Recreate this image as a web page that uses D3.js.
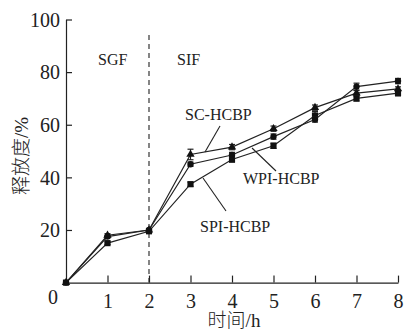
<!DOCTYPE html>
<html>
<head>
<meta charset="utf-8">
<script src="https://cdn.jsdelivr.net/npm/d3@7"></script>
<style>
  body { margin: 0; background: #fff; }
  svg text { font-family: "Liberation Serif", "Noto Sans CJK SC", serif; fill: #222; }
  svg text.cjk { font-weight: 300; }
</style>
</head>
<body>
<svg id="chart" width="405" height="331"></svg>
<script>
const hours = [0, 1, 2, 3, 4, 5, 6, 7, 8];
const scValues = [0, 18, 20, 48.7, 51.5, 58.5, 66.5, 72, 73.6];
const scErrors = [0, 0.6, 0.5, 2, 1, 1, 1, 1, 0.8];
const wpiValues = [0, 17.5, 20, 45, 48.5, 55.5, 62, 74.5, 76.6];
const wpiErrors = [0, 0.5, 0.5, 0.8, 1, 1, 1, 1.3, 1];
const spiValues = [0, 15, 19.5, 37.4, 46.8, 52, 63.5, 70, 72];
const spiErrors = [0, 0.5, 0.5, 0.8, 1, 1, 1.5, 1, 1];
const yTicks = [20, 40, 60, 80, 100];
const xTicks = [1, 2, 3, 4, 5, 6, 7, 8];

const svg = d3.select('#chart');
const x = d3.scaleLinear().domain([0, 8]).range([66, 398]);
const y = d3.scaleLinear().domain([0, 100]).range([282.6, 19.5]);

// axes
const xAxis = svg.append('g')
  .attr('transform', `translate(0,${y(0)})`)
  .call(d3.axisBottom(x).tickValues(xTicks).tickSizeInner(-7).tickSizeOuter(0).tickPadding(11));
const yAxis = svg.append('g')
  .attr('transform', `translate(${x(0)},0)`)
  .call(d3.axisLeft(y).tickValues(yTicks).tickSizeInner(-6).tickSizeOuter(0).tickPadding(6));
[xAxis, yAxis].forEach(g => {
  g.select('.domain').attr('stroke', '#222').attr('stroke-width', 1.2);
  g.selectAll('.tick line').attr('stroke', '#222').attr('stroke-width', 1.2);
  g.selectAll('.tick text').style('font-size', '20px').attr('fill', '#222');
});
yAxis.selectAll('.tick text').attr('dy', '0.34em');
xAxis.selectAll('.tick text').attr('dy', '0.7em');

svg.append('text').attr('x', 53).attr('y', 304).attr('text-anchor', 'middle')
  .style('font-size', '20px').text('0');

// SGF / SIF boundary
svg.append('line')
  .attr('x1', x(2)).attr('x2', x(2)).attr('y1', 35).attr('y2', y(0))
  .attr('stroke', '#222').attr('stroke-width', 1.1).attr('stroke-dasharray', '5,4');
svg.append('text').attr('x', 98).attr('y', 65).style('font-size', '16px').text('SGF');
svg.append('text').attr('x', 177).attr('y', 65).style('font-size', '16px').text('SIF');

const series = [
  { values: scValues, errors: scErrors, shape: d3.symbolTriangle, size: 30 },
  { values: spiValues, errors: spiErrors, shape: d3.symbolSquare, size: 38 },
  { values: wpiValues, errors: wpiErrors, shape: d3.symbolCircle, size: 32 }
];

const line = d3.line().x(d => x(d.h)).y(d => y(d.v));

series.forEach(s => {
  const pts = hours.map((h, i) => ({ h, v: s.values[i], e: s.errors[i] }));
  svg.append('path').datum(pts).attr('d', line)
    .attr('fill', 'none').attr('stroke', '#222').attr('stroke-width', 1.2);
  const eb = svg.append('g').selectAll('g').data(pts.filter(d => d.e > 0)).enter().append('g');
  eb.append('line')
    .attr('x1', d => x(d.h)).attr('x2', d => x(d.h))
    .attr('y1', d => y(d.v - d.e)).attr('y2', d => y(d.v + d.e))
    .attr('stroke', '#222').attr('stroke-width', 1.2);
  [-1, 1].forEach(sgn => {
    eb.append('line')
      .attr('x1', d => x(d.h) - 3).attr('x2', d => x(d.h) + 3)
      .attr('y1', d => y(d.v + sgn * d.e)).attr('y2', d => y(d.v + sgn * d.e))
      .attr('stroke', '#222').attr('stroke-width', 1.2);
  });
  svg.append('g').selectAll('path').data(pts).enter().append('path')
    .attr('d', d3.symbol().type(s.shape).size(s.size))
    .attr('transform', d => `translate(${x(d.h)},${y(d.v)})`)
    .attr('fill', '#111');
});

// annotations with leader lines
const notes = [
  { text: 'SC-HCBP', tx: 185, ty: 120, x1: 220, y1: 126, x2: 205, y2: 152 },
  { text: 'WPI-HCBP', tx: 243, ty: 184, x1: 252, y1: 148, x2: 276, y2: 171 },
  { text: 'SPI-HCBP', tx: 200, ty: 232, x1: 203, y1: 178, x2: 226, y2: 211 }
];
notes.forEach(n => {
  svg.append('line').attr('x1', n.x1).attr('y1', n.y1).attr('x2', n.x2).attr('y2', n.y2)
    .attr('stroke', '#222').attr('stroke-width', 1.1);
  svg.append('text').attr('x', n.tx).attr('y', n.ty).style('font-size', '16px').text(n.text);
});

// axis titles
svg.append('text').attr('class', 'cjk').attr('x', 234).attr('y', 327).attr('text-anchor', 'middle')
  .style('font-size', '19px').text('时间/h');
svg.append('text').attr('class', 'cjk').attr('transform', 'translate(28,156) rotate(-90)').attr('text-anchor', 'middle')
  .style('font-size', '19px').text('释放度/%');
</script>
</body>
</html>
